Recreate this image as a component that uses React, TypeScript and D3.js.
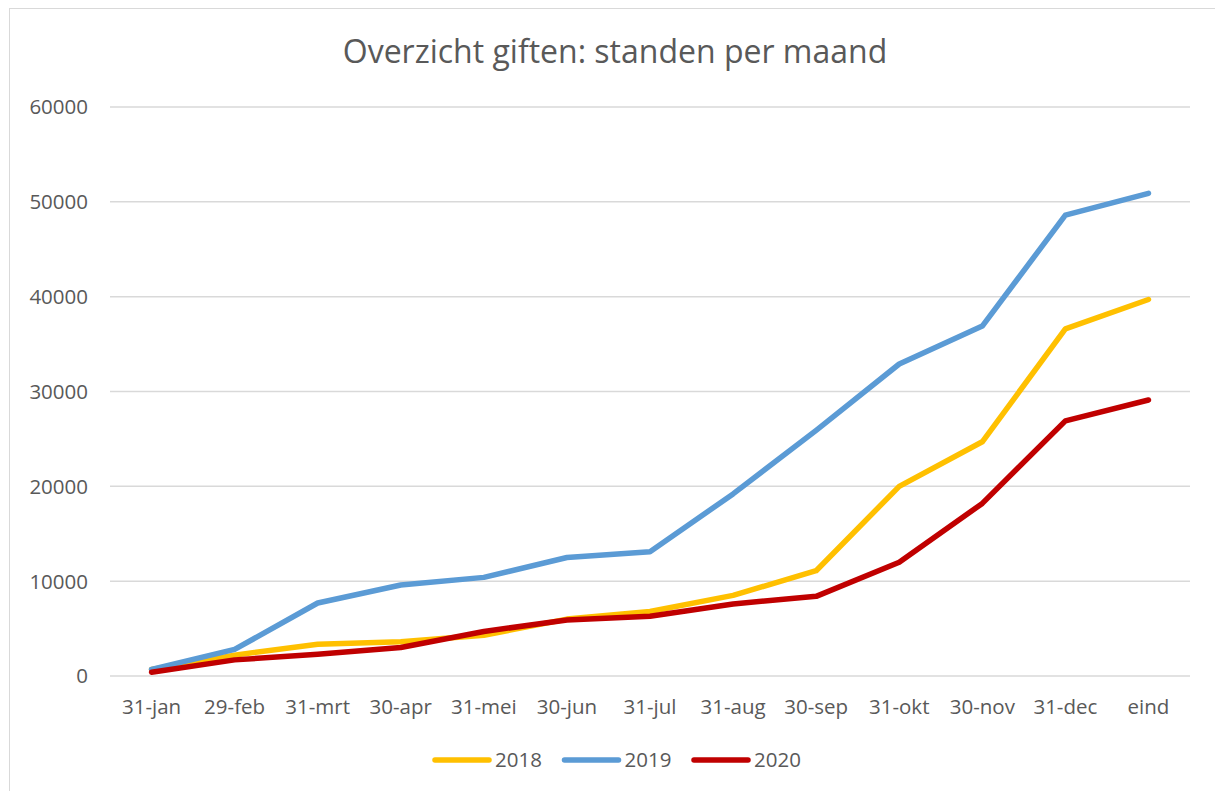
import React from "react";
import * as d3 from "d3";

// monthly running totals of donations

const months = [
  "31-jan", "29-feb", "31-mrt", "30-apr", "31-mei", "30-jun", "31-jul",
  "31-aug", "30-sep", "31-okt", "30-nov", "31-dec", "eind",
];

const values2018 = [700, 2200, 3350, 3600, 4300, 6000, 6800, 8500, 11100, 20000, 24700, 36600, 39700];
const values2019 = [700, 2800, 7700, 9600, 10400, 12500, 13100, 19200, 25900, 32900, 36900, 48600, 50900];
const values2020 = [400, 1700, 2300, 3000, 4700, 5900, 6300, 7600, 8400, 12000, 18200, 26900, 29100];

const yTicks = [0, 10000, 20000, 30000, 40000, 50000, 60000];

const seriesNames = ["2018", "2019", "2020"];
const seriesColors = ["#FFC000", "#5B9BD5", "#C00000"];

const W = 1215;
const H = 791;
const FONT = "'Open Sans', sans-serif";
const TEXT = "#595959";

export default function App() {
  const series = [values2018, values2019, values2020];

  const x = d3.scaleBand<string>().domain(months).range([110, 1190]);
  const y = d3.scaleLinear().domain([0, 60000]).range([676, 107]);
  const cx = (m: string) => (x(m) ?? 0) + x.bandwidth() / 2;

  const line = d3
    .line<number>()
    .x((_, i) => cx(months[i]))
    .y((d) => y(d));

  const legendX = d3.scalePoint<string>().domain(seriesNames).range([435, 694]);

  return (
    <svg
      width={W}
      height={H}
      style={{ position: "absolute", left: 0, top: 0, background: "#fff" }}
      fontFamily={FONT}
    >
      <rect x={9.5} y={8.5} width={W} height={H} fill="#fff" stroke="#d9d9d9" strokeWidth={1} />

      <text x={615} y={63} textAnchor="middle" fontSize={32} fill={TEXT}>
        Overzicht giften: standen per maand
      </text>

      {yTicks.map((t) => (
        <g key={t}>
          <line x1={110} x2={1190} y1={y(t)} y2={y(t)} stroke="#d9d9d9" strokeWidth={1.5} />
          <text x={88} y={y(t)} dy="0.36em" textAnchor="end" fontSize={20.5} fill={TEXT}>
            {t}
          </text>
        </g>
      ))}

      {months.map((m) => (
        <text key={m} x={cx(m)} y={714} textAnchor="middle" fontSize={20.5} fill={TEXT}>
          {m}
        </text>
      ))}

      {series.map((s, i) => (
        <path
          key={seriesNames[i]}
          d={line(s) ?? ""}
          fill="none"
          stroke={seriesColors[i]}
          strokeWidth={5.5}
          strokeLinejoin="round"
          strokeLinecap="round"
        />
      ))}

      {seriesNames.map((n, i) => {
        const lx = legendX(n) ?? 0;
        return (
          <g key={n}>
            <line x1={lx} x2={lx + 54} y1={760} y2={760} stroke={seriesColors[i]} strokeWidth={5.5} strokeLinecap="round" />
            <text x={lx + 60} y={760} dy="0.36em" fontSize={20.5} fill={TEXT}>
              {n}
            </text>
          </g>
        );
      })}
    </svg>
  );
}
